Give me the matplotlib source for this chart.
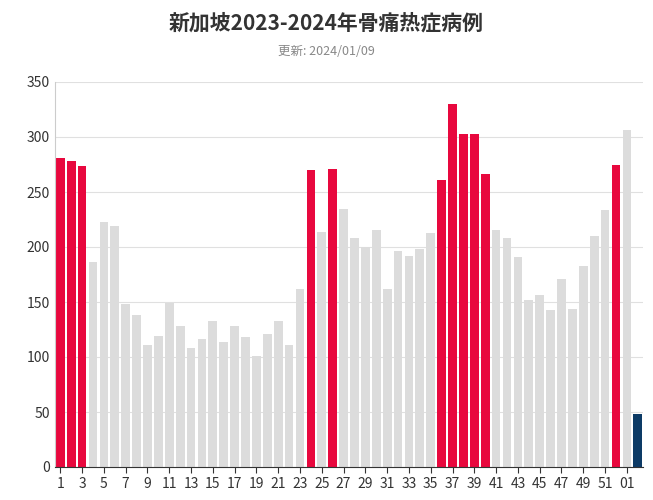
import matplotlib
matplotlib.use("Agg")
import matplotlib.pyplot as plt
from matplotlib import font_manager as fm

cjk = None
for f in fm.findSystemFonts():
    if "CJK" in f or "cjk" in f.lower():
        try:
            fm.fontManager.addfont(f)
        except Exception:
            pass
names = sorted({f.name for f in fm.fontManager.ttflist})
for cand in ["Noto Sans CJK SC", "Noto Sans CJK JP", "Noto Sans CJK TC", "Noto Sans CJK KR"]:
    if cand in names:
        cjk = cand
        break
if cjk is None:
    for n in names:
        if "CJK" in n:
            cjk = n
            break
plt.rcParams["font.family"] = [cjk or "DejaVu Sans", "DejaVu Sans"]

labels = [str(i) for i in range(1, 53)] + ["01", "02"]
values = [281, 278, 274, 186, 223, 219, 148, 138, 111, 119, 149, 128, 108, 116, 133, 114,
          128, 118, 101, 121, 133, 111, 162, 270, 214, 271, 235, 208, 200, 215, 162, 196,
          192, 198, 213, 261, 330, 303, 303, 266, 215, 208, 191, 152, 156, 143, 171, 144,
          183, 210, 234, 275, 306, 48]
highlight = {1, 2, 3, 24, 26, 36, 37, 38, 39, 40, 52}
tick_labels = [str(i) for i in range(1, 53, 2)] + ["01"]

colors = []
for i, v in enumerate(values):
    if i == len(values) - 1:
        colors.append("#0d3b66")
    elif (i + 1) in highlight and i < 52:
        colors.append("#e8083e")
    else:
        colors.append("#dcdcdc")

fig = plt.figure(figsize=(6.53, 5.0), dpi=100)
ax = fig.add_axes([0.084, 0.066, 0.901, 0.77])
x = list(range(len(values)))
ax.bar(x, values, width=0.8, color=colors, zorder=2)
ax.set_xlim(-0.5, len(values) - 0.5)
ax.set_ylim(0, 350)
ax.set_yticks(range(0, 351, 50))
ticks_pos = list(range(0, 52, 2)) + [52]
ax.set_xticks(ticks_pos)
ax.set_xticklabels(tick_labels)
ax.tick_params(axis="both", labelsize=10, colors="#333333", length=0)
ax.tick_params(axis="x", length=4, color="#333333")
ax.grid(axis="y", color="#e0e0e0", linewidth=0.8, zorder=0)
for s in ["top", "right"]:
    ax.spines[s].set_visible(False)
ax.spines["left"].set_color("#cccccc")
ax.spines["bottom"].set_color("#333333")
fig.text(0.5, 0.94, "新加坡2023-2024年骨痛热症病例", ha="center", fontsize=15, fontweight="bold", color="#333333")
fig.text(0.5, 0.89, "更新: 2024/01/09", ha="center", fontsize=9, color="#888888")
fig.savefig("out.png", dpi=100)
